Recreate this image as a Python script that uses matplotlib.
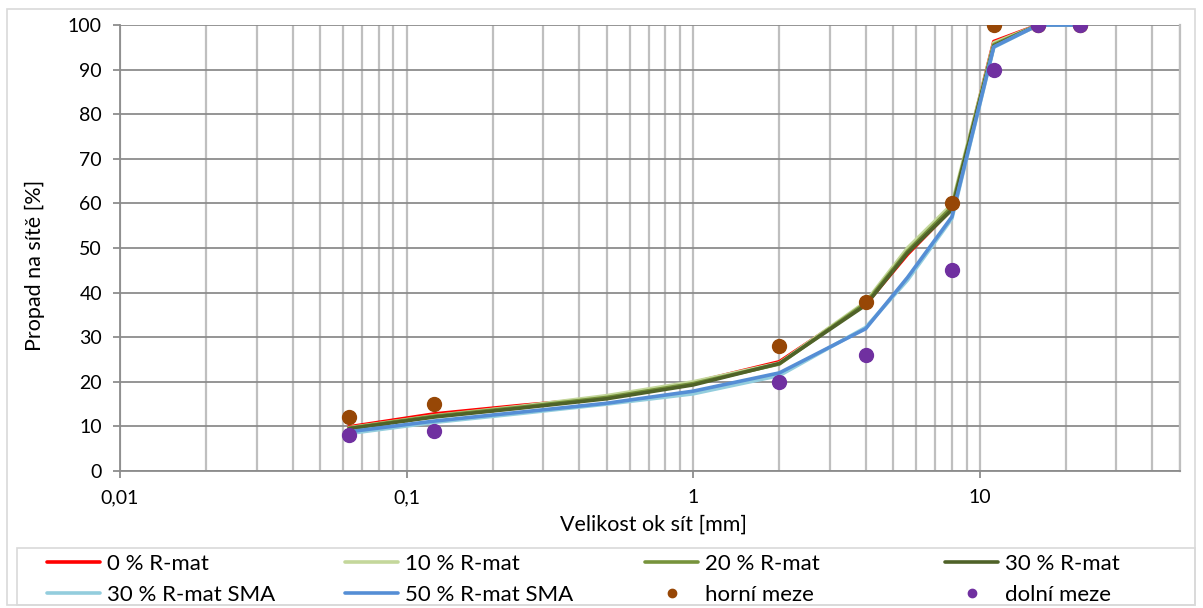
import matplotlib
matplotlib.use("Agg")
import matplotlib.pyplot as plt
from matplotlib.ticker import FixedLocator, LogLocator, NullFormatter, FuncFormatter
from matplotlib.patches import Rectangle

plt.rcParams['font.family'] = ['Lato', 'DejaVu Sans']

# sieve sizes [mm]
sieves = [0.063, 0.125, 0.25, 0.5, 1, 2, 4, 5.6, 8, 11.2, 16, 22.4]

r0 = [9.9, 12.8, 14.7, 16.4, 19.8, 24.5, 37.4, 48.6, 58.8, 96.3, 100, 100]
r10 = [9.7, 12.4, 14.5, 16.9, 20.0, 24.2, 37.9, 50.0, 59.8, 96.0, 100, 100]
r20 = [9.6, 12.3, 14.3, 16.5, 19.6, 24.0, 37.6, 49.3, 59.2, 95.6, 100, 100]
r30 = [9.5, 12.1, 14.1, 16.2, 19.3, 24.1, 37.2, 48.9, 58.6, 95.3, 100, 100]
r30_sma = [8.4, 10.9, 12.9, 15.0, 17.3, 21.4, 32.2, 42.8, 56.6, 95.0, 100, 100]
r50_sma = [8.8, 11.2, 13.2, 15.2, 17.9, 22.0, 31.9, 43.4, 57.0, 95.1, 100, 100]

lim_sieves = [0.063, 0.125, 2, 4, 8, 11.2, 16, 22.4]
upper = [12, 15, 28, 38, 60, 100, 100, 100]
lower = [8, 9, 20, 26, 45, 90, 100, 100]

series = [
    ("0 % R-mat", r0, "#ff0000"),
    ("10 % R-mat", r10, "#c4d79b"),
    ("20 % R-mat", r20, "#77933c"),
    ("30 % R-mat", r30, "#4f6228"),
    ("30 % R-mat SMA", r30_sma, "#93cddd"),
    ("50 % R-mat SMA", r50_sma, "#558ed5"),
]

W, H = 1203, 608
fig = plt.figure(figsize=(W/100, H/100), dpi=100)
ax = fig.add_axes([120/W, 1 - 471/H, (1180-120)/W, (471-25)/H])

for name, vals, col in series:
    ax.plot(sieves, vals, color=col, lw=2.6, label=name, solid_capstyle='round')

ax.plot(lim_sieves, upper, 'o', color="#974706", ms=10, label="horní meze")
ax.plot(lim_sieves, lower, 'o', color="#7030a0", ms=10, label="dolní meze")

ax.set_xscale('log')
ax.set_xlim(0.01, 50)
ax.set_ylim(0, 100)
ax.set_yticks(range(0, 101, 10))
ax.xaxis.set_major_locator(FixedLocator([0.01, 0.1, 1, 10]))
ax.xaxis.set_minor_locator(LogLocator(base=10, subs=range(2, 10)))
ax.xaxis.set_minor_formatter(NullFormatter())
ax.xaxis.set_major_formatter(FuncFormatter(lambda v, p: ("%g" % v).replace('.', ',')))

ax.grid(True, axis='y', color='#8c8c8c', lw=1.3, zorder=0)
ax.grid(True, axis='x', which='both', color='#bfbfbf', lw=1.6, zorder=0)
ax.set_axisbelow(True)

ax.spines['top'].set_visible(False)
ax.spines['right'].set_color('#bfbfbf')
ax.spines['right'].set_linewidth(1.6)
for s in ['left', 'bottom']:
    ax.spines[s].set_color('#8c8c8c')
    ax.spines[s].set_linewidth(1.3)

ax.tick_params(axis='y', length=5, width=1.3, color='#8c8c8c', labelsize=14, pad=8)
ax.tick_params(axis='x', which='major', length=5, width=1.3, color='#8c8c8c',
               labelsize=14, pad=8)
ax.tick_params(axis='x', which='minor', length=0)

ax.set_xlabel("Velikost ok sít [mm]", fontsize=15.5, va='center')
ax.set_ylabel("Propad na sítě [%]", fontsize=15.5, va='center')
ax.xaxis.set_label_coords((653-120)/1060, (471-525)/446)
ax.yaxis.set_label_coords((35-120)/1060, (471-265)/446)

# legend: 4 columns, filled row by row like the original
h, l = ax.get_legend_handles_labels()
col_x = [47, 345, 645, 945]
for i, x in enumerate(col_x):
    lg = fig.legend([h[i], h[i+4]], [l[i], l[i+4]], loc='upper left',
                    bbox_to_anchor=(x/W, 1 - 554/H), frameon=False, fontsize=16,
                    handlelength=2.4, handletextpad=0.28, markerscale=0.6,
                    borderpad=0, borderaxespad=0, labelspacing=0.5)

# legend frame and chart-area frame
fig.patches.append(Rectangle((17/W, 3/H), (1195-17)/W, (605-548)/H, transform=fig.transFigure,
                             fill=False, edgecolor='#d9d9d9', lw=1.2))
fig.patches.append(Rectangle((7/W, 3/H), 1188/W, 596/H, transform=fig.transFigure,
                             fill=False, edgecolor='#d9d9d9', lw=1.2))

fig.savefig("out.png", dpi=100)
